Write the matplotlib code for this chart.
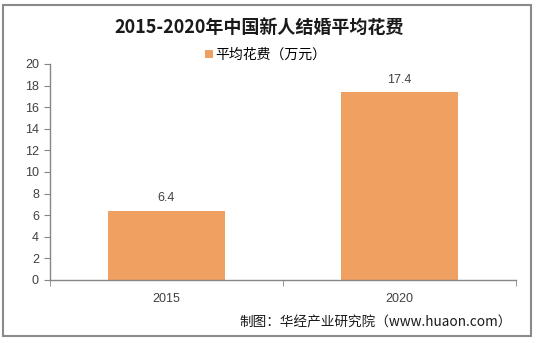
import matplotlib.pyplot as plt
from matplotlib.patches import Rectangle

plt.rcParams['font.family'] = ['Liberation Sans', 'Noto Sans CJK SC', 'DejaVu Sans']

years = ['2015', '2020']
avg_cost = [6.4, 17.4]
series_name = '平均花费（万元）'
title = '2015-2020年中国新人结婚平均花费'
source = '制图：华经产业研究院（www.huaon.com）'

bar_color = '#F0A060'
axis_color = '#868686'
text_color = '#404040'

fig = plt.figure(figsize=(5.38, 3.43), dpi=100)
ax = fig.add_axes([50 / 538, 63 / 343, 466 / 538, 216 / 343])

x = range(len(years))
bars = ax.bar(x, avg_cost, width=0.5, color=bar_color, label=series_name)
for b, v in zip(bars, avg_cost):
    ax.text(b.get_x() + b.get_width() / 2, v + 0.6, f'{v:g}', ha='center', va='bottom',
            fontsize=9, color=text_color)

ax.set_xlim(-0.5, len(years) - 0.5)
ax.set_ylim(0, 20)
ax.set_yticks(range(0, 21, 2))
ax.set_xticks(list(x))
ax.set_xticklabels(years)
ax.set_xticks([i - 0.5 for i in range(len(years) + 1)], minor=True)
ax.tick_params(axis='x', which='major', length=0, pad=9, labelsize=9, colors=text_color)
ax.tick_params(axis='x', which='minor', length=4, color=axis_color, direction='out')
ax.tick_params(axis='y', length=4, color=axis_color, labelsize=9, labelcolor=text_color, pad=4)

for s in ['top', 'right']:
    ax.spines[s].set_visible(False)
for s in ['left', 'bottom']:
    ax.spines[s].set_color(axis_color)
    ax.spines[s].set_linewidth(1)

fig.text(259 / 538, 1 - 27 / 343, title, ha='center', va='center', fontsize=13,
         fontweight='bold', family=['Noto Sans CJK SC', 'DejaVu Sans'], color='#1a1a1a')
fig.legend(handles=[bars], labels=[series_name], loc='center', bbox_to_anchor=(266 / 538, 1 - 55 / 343),
           frameon=False, handlelength=0.55, handleheight=0.55, handletextpad=0.2,
           prop={'family': ['Noto Sans CJK SC', 'DejaVu Sans'], 'size': 10})

fig.text(512 / 538, 1 - 322 / 343, source, ha='right', va='center', fontsize=9.8,
         family=['Noto Sans CJK SC', 'DejaVu Sans'], color='#1a1a1a')

fig.patches.append(Rectangle((3 / 538, 1 - 336 / 343), 528 / 538, 331 / 343,
                             transform=fig.transFigure, fill=False,
                             edgecolor='#8a8a8a', linewidth=1.5))

fig.savefig('out.png', dpi=100)
